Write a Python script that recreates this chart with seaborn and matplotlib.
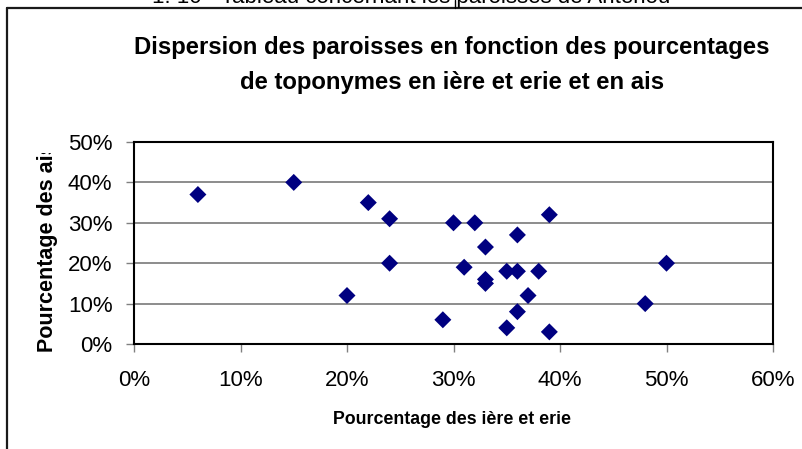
import matplotlib
matplotlib.use("Agg")
import matplotlib.pyplot as plt
from matplotlib.lines import Line2D
from matplotlib.ticker import PercentFormatter
from matplotlib.transforms import Bbox
import seaborn as sns
import pandas as pd

# Share of "ière / erie" toponyms and share of "ais" toponyms per parish (%)
pct_iere_erie = [6, 15, 22, 24, 24, 20, 30, 32, 39, 36, 33, 31, 50, 35, 36, 38, 33, 33, 37, 48, 36, 29, 35, 39]
pct_ais = [37, 40, 35, 31, 20, 12, 30, 30, 32, 27, 24, 19, 20, 18, 18, 18, 16, 15, 12, 10, 8, 6, 4, 3]

x_ticks = [0, 10, 20, 30, 40, 50, 60]
y_ticks = [0, 10, 20, 30, 40, 50]

title = "Dispersion des paroisses en fonction des pourcentages\nde toponymes en ière et erie et en ais"
x_title = "Pourcentage des ière et erie"
y_title = "Pourcentage des ais"
header = "1. 10 - Tableau concernant les paroisses de Antenou"

df = pd.DataFrame({"x": pct_iere_erie, "y": pct_ais})

sns.set_theme(style="white")
plt.rcParams["font.family"] = ["Liberation Sans", "DejaVu Sans"]

W, H = 802, 449
fig = plt.figure(figsize=(W / 100, H / 100), dpi=100)
fig.patch.set_facecolor("white")

ax = fig.add_axes([134 / W, 1 - 344 / H, (773 - 134) / W, (344 - 142) / H])
ax.set_facecolor("white")

sns.scatterplot(data=df, x="x", y="y", marker="D", s=75, color="#000080",
                edgecolor="none", linewidth=0, ax=ax, zorder=3, legend=False)

ax.set_xlim(0, 60)
ax.set_ylim(0, 50)
ax.set_xticks(x_ticks)
ax.set_yticks(y_ticks)
ax.xaxis.set_major_formatter(PercentFormatter(decimals=0))
ax.yaxis.set_major_formatter(PercentFormatter(decimals=0))

for v in y_ticks[1:-1]:
    ax.axhline(v, color="#6e6e6e", linewidth=1.1, zorder=1)

for sp in ax.spines.values():
    sp.set_visible(True)
    sp.set_color("black")
    sp.set_linewidth(1.5)

ax.tick_params(axis="x", direction="out", length=6, width=1, color="#808080",
               pad=13, labelsize=16, labelcolor="black", bottom=True)
ax.tick_params(axis="y", direction="out", length=6, width=1, color="#808080",
               pad=9.5, labelsize=16, labelcolor="black", left=True)
ax.set_xlabel("")
ax.set_ylabel("")

# Chart title
fig.text(452 / W, 1 - 65 / H, title, ha="center", va="center", fontsize=17.2,
         fontweight="bold", linespacing=1.68, color="black")

# Axis titles
fig.text(452 / W, 1 - 419 / H, x_title, ha="center", va="center", fontsize=12.8,
         fontweight="bold", color="black")
ylab = fig.text(48 / W, 1 - 352 / H, y_title, rotation=90, rotation_mode="anchor",
                ha="left", va="center", fontsize=15.5, fontweight="bold", color="black")
ylab.set_clip_box(Bbox.from_extents(0, 0, 120, H - 153))
ylab.set_clip_on(True)

# Chart area border and the page line above it
fig.add_artist(Line2D([7 / W, 7 / W], [0, 1 - 7.5 / H], transform=fig.transFigure,
                      color="#1a1a1a", linewidth=1.6))
fig.add_artist(Line2D([7 / W, 1], [1 - 7.5 / H, 1 - 7.5 / H], transform=fig.transFigure,
                      color="#1a1a1a", linewidth=1.6))
fig.add_artist(Line2D([455 / W, 455 / W], [1 - 7.5 / H, 1], transform=fig.transFigure,
                      color="black", linewidth=1.0))
fig.text(411 / W, 1 - 3 / H, header, ha="center", va="baseline", fontsize=16, color="black")

fig.savefig("out.png", dpi=100, facecolor="white")
